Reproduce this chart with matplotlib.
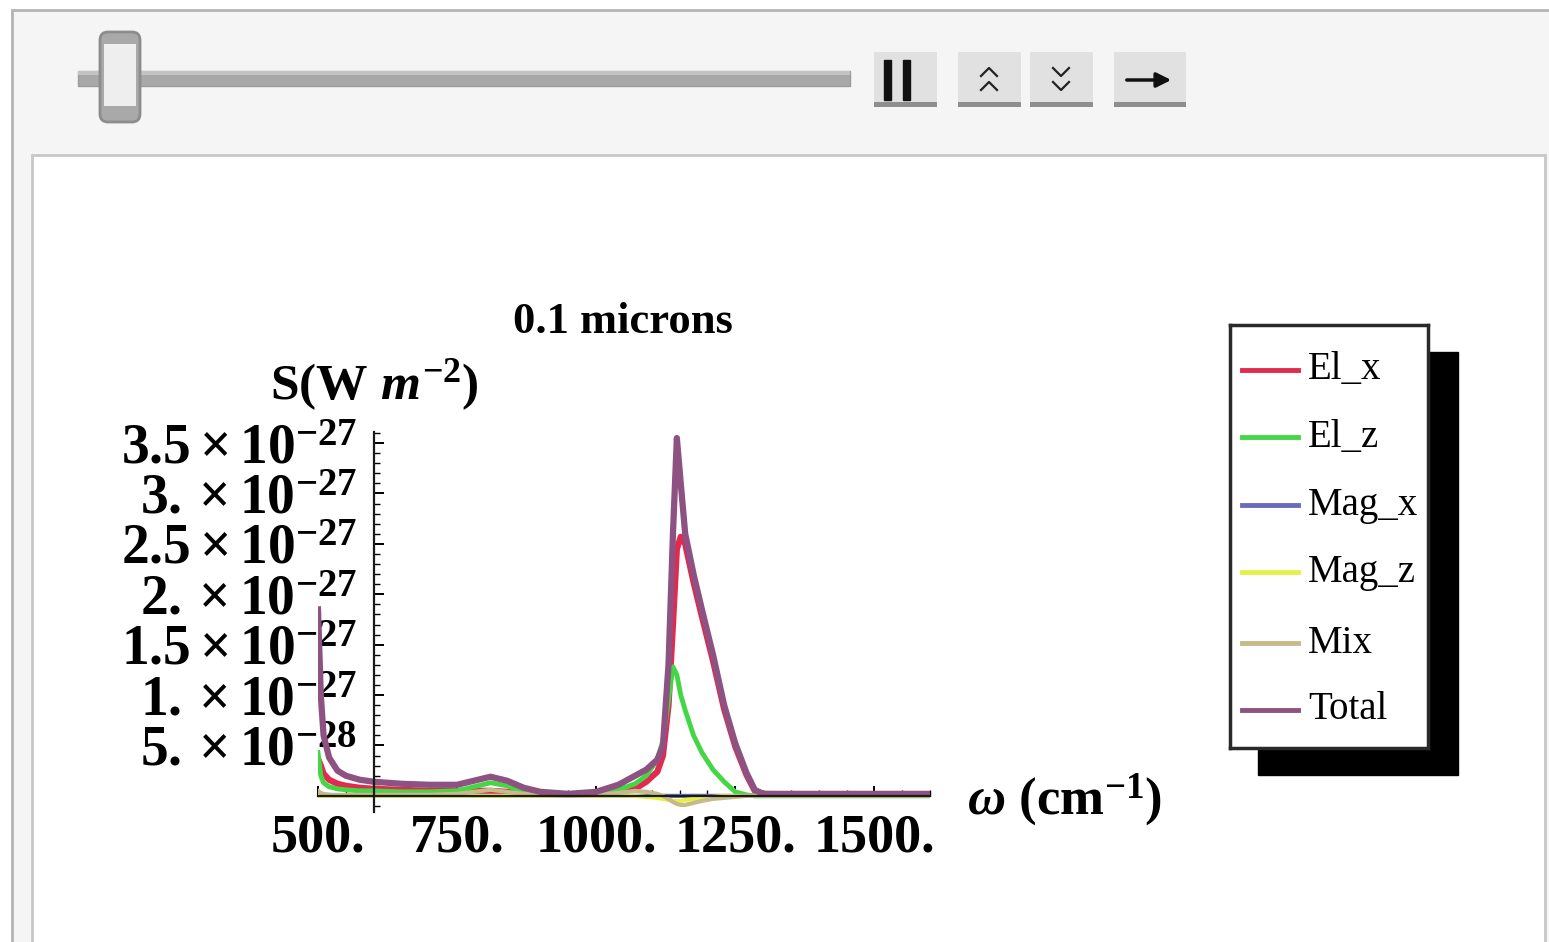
import matplotlib.pyplot as plt
from matplotlib.patches import Rectangle, FancyBboxPatch
from matplotlib.ticker import MultipleLocator

plt.rcParams["font.family"] = ["Liberation Serif", "DejaVu Serif"]
plt.rcParams["mathtext.fontset"] = "custom"
plt.rcParams["mathtext.rm"] = "Liberation Serif"
plt.rcParams["mathtext.bf"] = "Liberation Serif:bold"
plt.rcParams["mathtext.it"] = "Liberation Serif:italic:bold"

W, H = 1549, 942

# frequency samples, cm^-1
omega = [500, 505, 510, 520, 535, 550, 575, 600, 650, 700, 750, 780, 810, 840,
         870, 900, 950, 1000, 1040, 1070, 1090, 1110, 1120, 1130, 1138, 1145,
         1152, 1160, 1175, 1190, 1210, 1230, 1250, 1270, 1285, 1300, 1350,
         1400, 1450, 1500, 1550, 1600]

# spectral power, units of 1e-27 W m^-2
el_x = [0.37, 0.30, 0.22, 0.16, 0.12, 0.10, 0.08, 0.07, 0.06, 0.05, 0.05, 0.05,
        0.05, 0.04, 0.03, 0.02, 0.01, 0.02, 0.04, 0.07, 0.14, 0.24, 0.40, 0.90,
        1.70, 2.45, 2.57, 2.50, 2.12, 1.78, 1.34, 0.86, 0.49, 0.21, 0.05, 0.02,
        0.01, 0.01, 0.01, 0.01, 0.01, 0.01]
el_z = [0.43, 0.20, 0.13, 0.09, 0.07, 0.06, 0.05, 0.05, 0.04, 0.04, 0.05, 0.09,
        0.13, 0.10, 0.04, 0.02, 0.01, 0.02, 0.06, 0.12, 0.20, 0.36, 0.55, 0.95,
        1.28, 1.20, 1.00, 0.85, 0.60, 0.43, 0.26, 0.14, 0.04, 0.01, 0.00, 0.00,
        0.00, 0.00, 0.00, 0.00, 0.00, 0.00]
mag_x = [0.02, 0.01, 0.01, 0.01, 0.00, 0.00, 0.00, 0.00, 0.00, 0.00, 0.00, 0.00,
         0.00, 0.00, 0.00, 0.00, 0.00, 0.00, 0.00, 0.00, 0.00, 0.00, 0.00, 0.00,
         0.00, 0.00, 0.00, 0.00, 0.00, 0.00, 0.00, 0.00, 0.00, 0.00, 0.00, 0.00,
         0.00, 0.00, 0.00, 0.00, 0.00, 0.00]
mag_z = [0.00, 0.00, 0.00, 0.00, 0.00, 0.00, 0.00, 0.00, 0.00, 0.00, 0.00, 0.00,
         0.00, 0.00, 0.00, 0.00, 0.00, 0.00, 0.00, 0.00, -0.01, -0.02, -0.03,
         -0.04, -0.05, -0.05, -0.05, -0.04, -0.03, -0.02, -0.01, 0.00, 0.00,
         0.00, 0.00, 0.00, 0.00, 0.00, 0.00, 0.00, 0.00, 0.00]
mix = [0.05, 0.03, 0.02, 0.01, 0.01, 0.01, 0.01, 0.01, 0.01, 0.01, 0.02, 0.04,
       0.06, 0.04, 0.02, 0.01, 0.00, 0.01, 0.03, 0.05, 0.04, 0.02, 0.00, -0.03,
       -0.06, -0.08, -0.09, -0.09, -0.07, -0.05, -0.03, -0.02, -0.01, 0.00,
       0.00, 0.00, 0.00, 0.00, 0.00, 0.00, 0.00, 0.00]
total = [1.85, 1.00, 0.60, 0.38, 0.25, 0.20, 0.16, 0.14, 0.12, 0.11, 0.11, 0.15,
         0.19, 0.15, 0.08, 0.04, 0.02, 0.04, 0.11, 0.20, 0.26, 0.36, 0.50, 1.30,
         2.60, 3.55, 3.10, 2.60, 2.20, 1.85, 1.40, 0.90, 0.52, 0.23, 0.06, 0.02,
         0.02, 0.02, 0.02, 0.02, 0.02, 0.02]

series_names = ["El_x", "El_z", "Mag_x", "Mag_z", "Mix", "Total"]
series_values = [el_x, el_z, mag_x, mag_z, mix, total]
series_colors = ["#e2294f", "#45d645", "#6b6bbd", "#e4f04a", "#c6b98a", "#8d5282"]
series_widths = [4.5, 3.5, 3.0, 3.0, 3.0, 4.5]

x_ticks = [500, 750, 1000, 1250, 1500]
x_tick_labels = ["500.", "750.", "1000.", "1250.", "1500."]
y_ticks = [0.5, 1.0, 1.5, 2.0, 2.5, 3.0, 3.5]
y_tick_labels = [r"$\mathbf{5.\times10^{-28}}$", r"$\mathbf{1.\times10^{-27}}$",
                 r"$\mathbf{1.5\times10^{-27}}$", r"$\mathbf{2.\times10^{-27}}$",
                 r"$\mathbf{2.5\times10^{-27}}$", r"$\mathbf{3.\times10^{-27}}$",
                 r"$\mathbf{3.5\times10^{-27}}$"]

fig = plt.figure(figsize=(W / 100, H / 100), dpi=100)

# panel chrome, drawn in pixel coordinates
bg = fig.add_axes([0, 0, 1, 1], zorder=-10)
bg.set_xlim(0, W)
bg.set_ylim(H, 0)
bg.axis("off")
bg.add_patch(Rectangle((0, 0), W, H, color="white"))
bg.add_patch(Rectangle((12, 10), W, H, facecolor="#f5f5f5", edgecolor="#b4b4b4", lw=2))
bg.add_patch(Rectangle((32, 155), 1513, H, facecolor="white", edgecolor="#c8c8c8", lw=2))

bg.add_patch(Rectangle((78, 71), 772, 15, facecolor="#a8a8a8", edgecolor="#9c9c9c", lw=1))
bg.add_patch(Rectangle((78, 71), 772, 4, facecolor="#c4c4c4", lw=0))
bg.add_patch(FancyBboxPatch((100, 32), 40, 90, boxstyle="round,pad=0,rounding_size=8",
                            facecolor="#a9a9a9", edgecolor="#8c8c8c", lw=2))
bg.add_patch(Rectangle((104, 44), 32, 62, facecolor="#eeeeee", lw=0))

for x0, x1 in [(874, 937), (958, 1021), (1030, 1093), (1114, 1186)]:
    bg.add_patch(Rectangle((x0, 52), x1 - x0, 54, facecolor="#e1e1e1", edgecolor="none"))
    bg.add_patch(Rectangle((x0, 102), x1 - x0, 5, facecolor="#8e8e8e", lw=0))
bg.add_patch(Rectangle((884, 60), 7, 40, color="#111111"))
bg.add_patch(Rectangle((903, 60), 7, 40, color="#111111"))
for yy in (68, 82):
    bg.plot([981, 989, 997], [yy + 8, yy, yy + 8], color="#222222", lw=1.6)
for yy in (68, 82):
    bg.plot([1053, 1061, 1069], [yy, yy + 8, yy], color="#222222", lw=1.6)
bg.annotate("", xy=(1174, 80), xytext=(1124, 80),
            arrowprops=dict(arrowstyle="-|>", lw=2.5, color="#111111", mutation_scale=22))

# main plot
ax = fig.add_axes([318 / W, (H - 812) / H, 612 / W, 380 / H], zorder=1)
ax.patch.set_alpha(0)
for name, vals, color, lw in zip(series_names, series_values, series_colors, series_widths):
    ax.plot(omega, vals, color=color, lw=lw, label=name)
ax.set_xlim(500, 1600)
ax.set_ylim(-0.16, 3.61)
ax.spines["top"].set_visible(False)
ax.spines["right"].set_visible(False)
ax.spines["left"].set_position(("data", 600))
ax.spines["bottom"].set_position(("data", 0))
for sp in ("left", "bottom"):
    ax.spines[sp].set_linewidth(1.6)
    ax.spines[sp].set_color("#1a1a1a")
ax.set_xticks(x_ticks, x_tick_labels, fontsize=39, fontweight="bold")
ax.set_yticks(y_ticks, y_tick_labels, fontsize=40)
ax.xaxis.set_minor_locator(MultipleLocator(50))
ax.yaxis.set_minor_locator(MultipleLocator(0.1))
ax.tick_params(axis="x", which="major", direction="in", length=7, width=1.4, pad=13)
ax.tick_params(axis="y", which="major", direction="in", length=7, width=1.4, pad=12)
ax.tick_params(which="minor", direction="in", length=4, width=1.0)

bg.text(623, 322, "0.1 microns", ha="center", va="center", fontsize=32, fontweight="bold")
bg.text(374, 385, r"$\mathbf{S(W}\ m^{\mathbf{-2}}\mathbf{)}$", ha="center", va="center",
        fontsize=37)
bg.text(1065, 800, r"$\omega\ \mathbf{(cm}^{\mathbf{-1}}\mathbf{)}$", ha="center",
        va="center", fontsize=38)

# legend with hard black drop shadow
bg.add_patch(Rectangle((1258, 352), 200, 423, color="black"))
lg = fig.add_axes([1230 / W, (H - 748) / H, 198 / W, 423 / H], zorder=2)
lg.set_xlim(0, 1)
lg.set_ylim(0, 1)
lg.set_xticks([])
lg.set_yticks([])
for sp in lg.spines.values():
    sp.set_linewidth(2.5)
    sp.set_color("#2a2a2a")
leg_y = [0.894, 0.735, 0.574, 0.416, 0.248, 0.090]
for name, color, yc in zip(series_names, series_colors, leg_y):
    lg.plot([0.061, 0.343], [yc, yc], color=color, lw=3.5)
    lg.text(0.394, yc, name, va="center", ha="left", fontsize=28)

fig.savefig("out.png", dpi=100)
